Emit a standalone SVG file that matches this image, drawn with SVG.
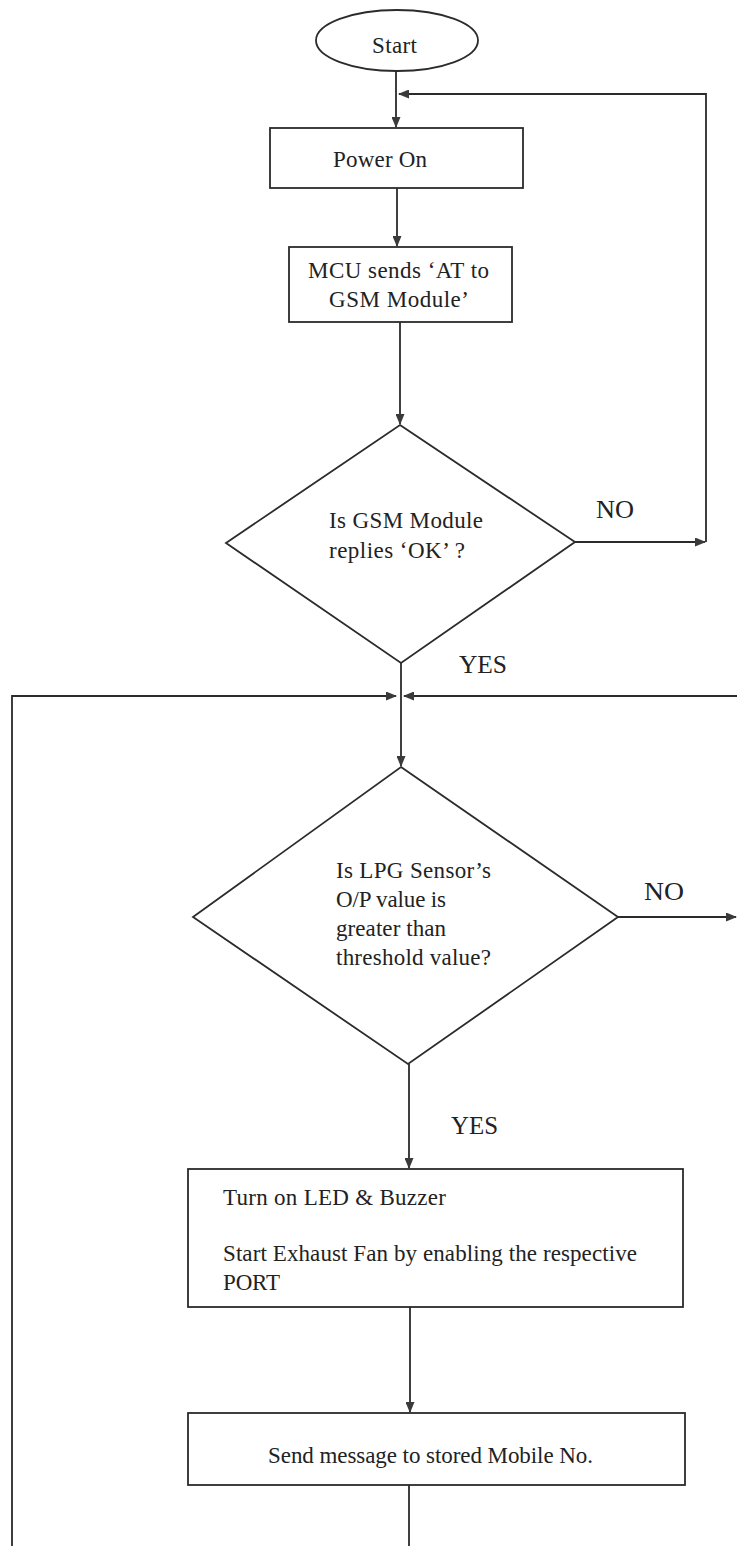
<svg xmlns="http://www.w3.org/2000/svg" width="737" height="1546" viewBox="0 0 737 1546">
<style>
.shape{fill:none;stroke:#2b2b2b;stroke-width:1.8}
.conn{fill:none;stroke:#2b2b2b;stroke-width:1.8}
.t{font-family:"Liberation Serif","Times New Roman",serif;font-size:23px;fill:#222}
.lbl{font-family:"Liberation Serif","Times New Roman",serif;font-size:25px;fill:#222}
</style>
<defs>
<marker id="ah" markerUnits="userSpaceOnUse" markerWidth="11" markerHeight="9" refX="10" refY="4.5" orient="auto">
<path d="M0,0 L11,4.5 L0,9 z" fill="#3a3a3a"/>
</marker>
</defs>
<rect width="737" height="1546" fill="#ffffff"/>
<g id="connectors">
<path class="conn" d="M396,71 L396,127" marker-end="url(#ah)"/>
<path class="conn" d="M397,188 L397,246" marker-end="url(#ah)"/>
<path class="conn" d="M400,322 L400,424" marker-end="url(#ah)"/>
<path class="conn" d="M575,542 L705,542" marker-end="url(#ah)"/>
<path class="conn" d="M706,542 L706,94 L399,94" marker-end="url(#ah)"/>
<path class="conn" d="M401,663 L401,766" marker-end="url(#ah)"/>
<path class="conn" d="M12,1546 L12,696 L396,696" marker-end="url(#ah)"/>
<path class="conn" d="M737,696 L404,696" marker-end="url(#ah)"/>
<path class="conn" d="M618,917 L736,917" marker-end="url(#ah)"/>
<path class="conn" d="M409,1064 L409,1168" marker-end="url(#ah)"/>
<path class="conn" d="M410,1307 L410,1412" marker-end="url(#ah)"/>
<path class="conn" d="M409,1485 L409,1546"/>
</g>
<g id="start">
<ellipse class="shape" cx="397" cy="40.5" rx="81" ry="30.5"/>
<text class="t" x="372" y="53" textLength="45">Start</text>
</g>
<g id="power-on">
<rect class="shape" x="270" y="128" width="253" height="60"/>
<text class="t" x="333" y="167" textLength="94">Power On</text>
</g>
<g id="mcu-sends">
<rect class="shape" x="289" y="247" width="223" height="75"/>
<text class="t" x="308" y="278" textLength="181">MCU sends ‘AT to</text>
<text class="t" x="329" y="307" textLength="140">GSM Module’</text>
</g>
<g id="gsm-ok">
<polygon class="shape" points="400,425 575,542 401,663 226,543"/>
<text class="t" x="329" y="528" textLength="154">Is GSM Module</text>
<text class="t" x="329" y="558" textLength="136">replies ‘OK’ ?</text>
</g>
<g id="labels">
<text class="lbl" x="596" y="518" textLength="38" lengthAdjust="spacingAndGlyphs">NO</text>
<text class="lbl" x="459" y="673" textLength="48" lengthAdjust="spacingAndGlyphs">YES</text>
<text class="lbl" x="644" y="900" textLength="40" lengthAdjust="spacingAndGlyphs">NO</text>
<text class="lbl" x="451" y="1134" textLength="47" lengthAdjust="spacingAndGlyphs">YES</text>
</g>
<g id="lpg-check">
<polygon class="shape" points="401,767 618,917 408,1064 193,917"/>
<text class="t" x="336" y="878" textLength="155">Is LPG Sensor’s</text>
<text class="t" x="336" y="907" textLength="110">O/P value is</text>
<text class="t" x="336" y="936" textLength="110">greater than</text>
<text class="t" x="336" y="965" textLength="155">threshold value?</text>
</g>
<g id="turn-on">
<rect class="shape" x="188" y="1169" width="495" height="138"/>
<text class="t" x="223" y="1205" textLength="223">Turn on LED &amp; Buzzer</text>
<text class="t" x="223" y="1261" textLength="414">Start Exhaust Fan by enabling the respective</text>
<text class="t" x="223" y="1290" textLength="57">PORT</text>
</g>
<g id="send-message">
<rect class="shape" x="188" y="1413" width="497" height="72"/>
<text class="t" x="268" y="1463" textLength="325">Send message to stored Mobile No.</text>
</g>
</svg>
